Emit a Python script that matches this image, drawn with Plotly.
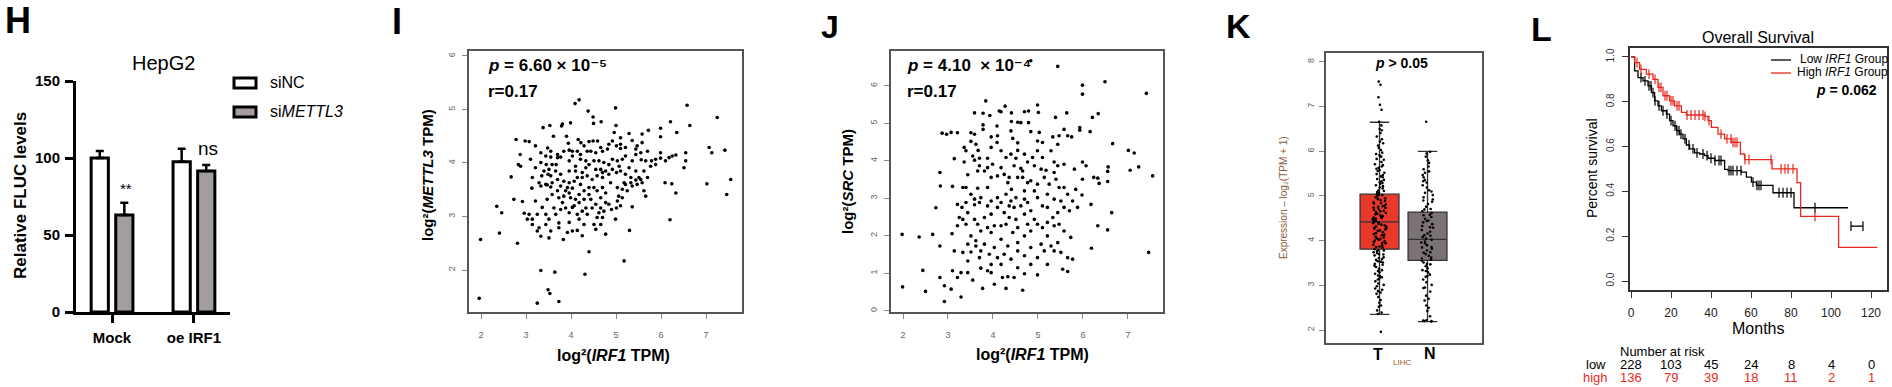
import plotly.graph_objects as go

# ---------------- data ----------------
# Panel H (HepG2 luciferase)
h_categories = ["Mock", "oe IRF1"]
h_sinc = [100, 97.5]
h_sinc_err = [4.5, 8.5]
h_simettl3 = [63, 91.5]
h_simettl3_err = [8, 4]

# Panel I: log2(IRF1 TPM) vs log2(METTL3 TPM)
i_x = [4.09, 4.18, 4.38, 4.49, 4.50, 4.67, 4.99, 6.58, 7.25, 6.21, 6.64, 5.00, 3.99, 3.79, 3.81, 3.53, 3.38,
       3.61, 3.90, 2.78, 2.98, 3.07, 3.21, 3.48, 3.94, 3.96, 4.16, 4.22, 4.29, 4.40, 4.49, 4.59, 4.14, 4.36,
       4.96, 5.10, 5.29, 5.36, 5.58, 5.58, 5.47, 5.44, 5.72, 5.99, 5.99, 6.35, 4.92, 5.01, 5.10, 4.81, 4.70,
       4.55, 2.87, 3.10, 2.83, 2.88, 3.33, 3.45, 3.55, 3.70, 3.77, 3.51, 3.58, 3.67, 3.96, 4.03, 4.10, 4.21,
       4.33, 4.40, 4.51, 4.62, 4.73, 4.84, 4.92, 5.03, 5.14, 5.21, 5.36, 5.44, 5.56, 5.66, 5.79, 5.88, 5.99,
       5.99, 6.18, 6.33, 6.55, 6.55, 6.51, 7.07, 7.13, 7.42, 7.55, 7.46, 7.02, 6.09, 6.24, 6.33, 6.20, 2.67,
       3.14, 3.35, 3.49, 3.13, 3.33, 3.47, 3.55, 3.70, 3.84, 3.96, 4.07, 4.14, 4.25, 4.36, 4.47, 4.58, 4.70,
       4.77, 4.84, 5.01, 5.10, 5.21, 5.33, 5.44, 5.55, 5.58, 5.70, 3.70, 3.73, 3.84, 3.92, 4.03, 4.10, 4.18,
       4.29, 4.40, 4.51, 4.58, 4.70, 4.77, 4.88, 5.03, 5.06, 5.14, 5.25, 5.36, 5.47, 5.62, 5.66, 2.35, 2.46,
       2.73, 2.92, 2.96, 3.07, 3.14, 3.25, 3.44, 3.51, 3.62, 3.66, 3.77, 3.88, 3.96, 4.07, 4.14, 4.25, 4.33,
       4.44, 4.55, 4.66, 4.73, 4.77, 4.90, 5.01, 5.10, 5.36, 3.14, 3.29, 3.33, 3.51, 3.55, 3.73, 3.83, 3.92,
       4.03, 4.14, 4.25, 4.51, 4.55, 4.77, 4.99, 5.30, 2.41, 1.99, 2.81, 4.40, 5.18, 3.33, 3.64, 4.31, 3.49,
       3.53, 1.96, 3.25, 3.73, 4.33, 4.66, 3.96, 3.66, 3.44, 3.29, 5.18, 5.29, 3.96, 4.21, 4.66, 4.36, 4.58,
       4.66, 3.36, 3.03,
       3.44, 3.58, 3.77, 3.88, 3.99, 4.18, 4.29, 4.40, 4.47, 4.62, 4.70, 4.84, 5.03, 5.14, 5.21, 5.33, 5.51,
       5.62, 5.77, 5.88, 6.10, 6.25, 5.70, 5.55, 5.21, 5.10, 4.84, 4.66, 4.44, 4.21, 4.03, 3.84, 3.70, 3.55,
       3.33, 3.21, 3.40, 3.55, 3.77, 4.10, 4.25, 4.55, 4.70, 4.92, 5.07, 5.44, 3.21, 3.47, 3.58, 3.81, 4.03,
       4.18, 4.29, 3.96, 3.73, 3.44, 3.25]
i_y = [5.11, 5.18, 4.97, 4.86, 4.74, 4.77, 5.03, 5.08, 4.85, 4.77, 4.70, 4.70, 4.75, 4.69, 4.73, 4.70, 4.66,
       4.50, 4.50, 4.44, 4.41, 4.40, 4.32, 4.28, 4.37, 4.24, 4.44, 4.38, 4.32, 4.40, 4.41, 4.41, 4.22, 4.22,
       4.57, 4.47, 4.55, 4.42, 4.54, 4.38, 4.32, 4.26, 4.61, 4.65, 4.49, 4.57, 4.41, 4.32, 4.27, 4.26, 4.22,
       4.19, 4.16, 4.07, 3.97, 3.94, 4.01, 3.97, 4.11, 4.10, 4.11, 3.88, 3.97, 3.97, 4.04, 4.13, 3.94, 4.07,
       4.04, 3.97, 4.04, 4.04, 4.01, 3.97, 4.07, 4.04, 4.07, 4.13, 4.04, 4.16, 4.06, 4.04, 4.04, 4.07, 4.19,
       4.09, 4.10, 4.15, 4.19, 4.04, 3.91, 4.29, 4.19, 4.24, 3.69, 3.41, 3.61, 3.63, 3.61, 3.44, 2.94, 3.74,
       3.73, 3.76, 3.79, 3.53, 3.57, 3.59, 3.55, 3.69, 3.66, 3.63, 3.66, 3.73, 3.73, 3.76, 3.69, 3.76, 3.73,
       3.85, 3.79, 3.82, 3.85, 3.79, 3.73, 3.68, 3.69, 3.63, 3.73, 3.48, 3.35, 3.38, 3.54, 3.53, 3.32, 3.41,
       3.48, 3.54, 3.54, 3.48, 3.54, 3.44, 3.63, 3.54, 3.38, 3.51, 3.48, 3.57, 3.60, 3.48, 3.38, 3.19, 3.07,
       3.32, 3.28, 3.06, 3.04, 2.95, 3.04, 3.04, 2.95, 3.16, 3.04, 3.13, 3.16, 3.07, 3.20, 3.04, 3.10, 3.16,
       3.32, 3.23, 3.16, 3.10, 3.26, 3.13, 3.16, 3.20, 3.18, 2.85, 2.79, 2.63, 2.60, 2.73, 2.88, 2.57, 2.70,
       2.73, 2.74, 2.64, 2.85, 2.76, 2.67, 2.95, 2.74, 2.69, 2.57, 2.50, 2.34, 2.17, 1.99, 1.96, 1.92, 1.63,
       1.56, 1.47, 1.38, 1.41, 3.91, 3.88, 3.85, 3.85, 4.13, 3.63, 3.63, 3.91, 3.44, 3.60, 3.35, 3.04, 2.98,
       2.85, 3.17, 2.95,
       3.60, 3.63, 3.57, 3.48, 3.35, 3.26, 3.32, 3.41, 3.16, 3.07, 2.98, 3.23, 3.29, 3.35, 3.60, 3.63, 3.73,
       3.85, 3.94, 3.97, 4.04, 4.13, 4.22, 4.19, 4.29, 4.35, 4.35, 4.29, 4.22, 4.16, 4.22, 4.22, 4.16, 4.22,
       4.19, 3.91, 3.85, 3.76, 3.79, 3.85, 3.82, 3.88, 3.82, 3.88, 3.94, 3.85, 3.29, 3.32, 3.41, 3.26, 3.17,
       2.95, 2.85, 2.89, 2.79, 2.85, 2.73]

# Panel J: log2(IRF1 TPM) vs log2(SRC TPM)
j_x = [4.84, 5.44, 5.99, 5.99, 6.49, 7.41, 7.55, 7.46, 7.01, 7.14, 7.24, 7.05, 6.66, 6.64, 6.56, 6.55, 6.55,
       6.34, 6.21, 6.16, 5.93, 5.93, 5.99, 6.07, 5.99, 6.24, 6.33, 6.36, 6.18, 6.33, 6.55, 6.19, 5.64, 5.39,
       5.58, 5.66, 5.75, 5.47, 5.33, 5.44, 4.99, 5.01, 4.79, 4.70, 4.41, 4.27, 4.14, 4.18, 3.84, 3.93, 3.78,
       3.59, 4.41, 4.55, 4.62, 4.79, 4.09, 3.78, 3.78, 3.96, 2.87, 2.97, 3.07, 3.21, 3.51, 4.40, 4.44, 4.55,
       4.55, 4.84, 5.03, 4.99, 5.10, 3.51, 3.62, 3.67, 3.36, 4.09, 4.18, 4.29, 4.40, 4.51, 3.14, 3.36, 3.59,
       3.70, 3.88, 4.70, 4.77, 4.88, 4.92, 5.07, 5.18, 5.29, 5.36, 5.44, 5.36, 5.40, 5.58, 5.81, 5.58, 5.84,
       5.98, 2.82, 2.83, 3.10, 3.33, 3.44, 3.66, 3.88, 3.96, 4.10, 4.25, 4.36, 4.55, 4.62, 4.66, 4.77, 4.70,
       4.92, 3.40, 3.51, 3.66, 3.88, 4.10, 4.29, 4.41, 4.51, 4.62, 4.77, 2.73, 3.09, 2.66, 2.36, 1.98, 3.21,
       3.31, 3.44, 3.59, 3.70, 3.88, 3.96, 4.10, 4.25, 4.36, 4.47, 4.70, 4.84, 5.10, 5.21, 5.33, 5.44, 5.58,
       5.70, 3.21, 3.33, 3.51, 3.66, 3.73, 3.88, 4.03, 4.18, 4.29, 4.44, 4.55, 4.70, 4.84, 4.99, 5.10, 5.21,
       5.36, 2.82, 3.14, 3.33, 3.51, 3.62, 3.70, 3.73, 3.92, 4.10, 4.25, 4.40, 4.55, 4.70, 4.84, 4.99, 5.14,
       5.21, 5.36, 5.51, 5.66, 5.77, 2.44, 3.10, 3.29, 3.44, 3.73, 3.88, 3.96, 4.21, 4.33, 4.47, 4.70, 4.99,
       5.55, 5.66, 2.82, 3.21, 3.55, 2.92, 3.07, 3.29, 3.77, 4.03, 4.29, 4.66, 1.99, 2.50, 2.92,
       3.40, 3.55, 3.70, 3.81, 3.99, 4.18, 4.33, 4.47, 4.66, 4.84, 4.99, 5.14, 5.25, 5.47, 5.66, 5.77, 5.88,
       5.51, 5.36, 5.21, 4.99, 4.70, 4.40, 4.18, 3.96, 3.73, 3.59, 3.40, 3.25, 3.40, 3.59, 3.81, 3.96, 4.18,
       4.36, 4.51, 4.77, 4.92, 5.21, 5.47, 5.58, 5.73, 3.44, 3.62, 3.81, 4.03, 4.33, 4.55, 4.84, 5.07, 5.29,
       5.44, 3.44, 3.96, 4.18, 4.55, 3.59, 4.10, 4.99, 5.10, 3.96]
j_y = [6.67, 6.52, 6.02, 5.78, 6.11, 5.80, 3.60, 1.56, 4.28, 4.21, 3.84, 3.75, 4.46, 2.62, 3.84, 3.72, 3.45,
       5.26, 5.16, 4.78, 4.89, 4.82, 3.97, 3.87, 3.51, 3.56, 3.54, 3.40, 2.84, 2.27, 2.16, 1.67, 5.28, 5.16,
       4.84, 4.67, 4.64, 4.67, 4.64, 4.44, 5.49, 5.29, 5.33, 5.31, 5.28, 5.46, 5.33, 5.31, 5.60, 5.21, 5.27,
       5.28, 5.05, 5.03, 5.02, 5.02, 4.93, 4.96, 4.84, 4.64, 4.74, 4.71, 4.76, 4.75, 4.75, 4.80, 4.60, 4.48,
       4.28, 4.78, 4.76, 4.53, 4.49, 4.52, 4.44, 4.28, 4.36, 4.49, 4.27, 4.09, 4.18, 4.07, 4.06, 3.97, 4.02,
       4.07, 4.07, 4.18, 3.97, 4.09, 3.87, 3.78, 3.75, 4.27, 3.97, 3.87, 3.69, 3.51, 3.91, 3.78, 3.29, 3.24,
       3.09, 3.69, 3.33, 3.32, 3.29, 3.63, 3.73, 3.82, 3.56, 3.60, 3.64, 3.56, 3.56, 3.80, 3.73, 3.42, 3.20,
       3.20, 3.29, 3.11, 3.27, 3.29, 3.02, 3.11, 3.24, 3.02, 2.80, 2.89, 2.75, 2.06, 2.04, 1.97, 2.04, 2.84,
       2.76, 2.62, 2.83, 2.89, 2.80, 2.58, 2.76, 2.62, 2.80, 2.76, 2.58, 2.67, 2.80, 2.76, 2.49, 2.62, 2.76,
       2.67, 2.27, 2.44, 2.00, 2.31, 2.13, 2.22, 2.27, 1.91, 2.31, 2.09, 2.22, 2.00, 2.13, 2.31, 2.22, 2.00,
       2.27, 1.73, 1.60, 1.56, 1.57, 1.73, 1.42, 1.60, 1.51, 1.42, 1.51, 1.38, 1.60, 1.47, 1.24, 1.42, 1.60,
       1.24, 1.60, 1.56, 1.42, 1.38, 1.08, 1.07, 1.02, 1.02, 1.14, 1.07, 1.02, 0.89, 0.91, 0.89, 0.99, 0.96,
       1.11, 1.05, 0.89, 0.89, 0.82, 0.67, 0.58, 0.37, 0.60, 0.71, 0.60, 0.55, 0.64, 0.52, 0.25,
       4.27, 4.13, 3.87, 3.73, 3.91, 3.82, 3.42, 3.87, 3.56, 3.47, 3.38, 3.56, 3.38, 3.29, 3.11, 2.93, 2.76,
       2.93, 2.98, 3.11, 3.02, 2.98, 2.93, 2.89, 2.93, 3.02, 2.98, 2.89, 2.49, 2.31, 2.44, 2.49, 2.09, 2.27,
       2.49, 2.44, 2.31, 2.44, 2.36, 2.31, 2.13, 1.96, 1.78, 1.87, 1.78, 1.69, 1.73, 1.82, 1.69, 1.78, 1.73,
       1.82, 1.33, 1.24, 1.24, 1.15, 4.71, 4.67, 4.27, 4.09, 4.36]

# Panel K: GEPIA box plot (LIHC)
k_groups = ["T", "N"]
k_q1 = [3.81, 3.56]
k_median = [4.42, 4.03]
k_q3 = [5.04, 4.64]
k_lower = [2.35, 2.19]
k_upper = [6.65, 6.00]
k_t_points = [7.56, 7.49, 7.21, 7.04, 6.93, 6.66, 6.58, 6.47, 6.41, 6.33, 6.27, 6.22, 6.13, 6.08, 6.03, 5.97,
              5.94, 5.88, 5.83, 5.81, 5.76, 5.71, 5.69, 5.63, 5.61, 5.56, 5.52, 5.49, 5.47, 5.42, 5.38, 5.36,
              5.33, 5.29, 5.27, 5.22, 5.19, 5.17, 5.13, 5.11, 5.07, 5.04, 5.02, 4.99, 4.97, 4.93, 4.91, 4.89,
              4.86, 4.83, 4.81, 4.78, 4.76, 4.73, 4.71, 4.69, 4.66, 4.64, 4.62, 4.59, 4.57, 4.55, 4.53, 4.51,
              4.48, 4.46, 4.44, 4.43, 4.41, 4.38, 4.36, 4.34, 4.32, 4.29, 4.27, 4.25, 4.22, 4.19, 4.17, 4.15,
              4.12, 4.09, 4.07, 4.04, 4.02, 3.99, 3.97, 3.94, 3.91, 3.89, 3.86, 3.84, 3.81, 3.78, 3.76, 3.72,
              3.69, 3.67, 3.63, 3.61, 3.57, 3.54, 3.51, 3.48, 3.44, 3.41, 3.37, 3.34, 3.29, 3.26, 3.22, 3.18,
              3.13, 3.09, 3.04, 2.98, 2.93, 2.87, 2.81, 2.74, 2.67, 2.61, 2.52, 2.44, 2.39, 2.36, 1.96,
              5.58, 5.44, 5.31, 5.24, 5.09, 4.95, 4.84, 4.74, 4.67, 4.60, 4.49, 4.39, 4.31, 4.23, 4.13, 4.05,
              3.95, 3.87, 3.79, 3.70, 3.59, 3.46, 3.32, 3.16, 3.01, 2.84, 5.91, 5.66, 5.02, 4.77, 4.52, 4.28,
              4.00, 3.74, 3.53, 3.20, 6.18, 6.50, 2.90, 2.55]
k_n_points = [6.66, 5.99, 5.95, 5.88, 5.80, 5.74, 5.66, 5.60, 5.55, 5.47, 5.42, 5.36, 5.30, 5.24, 5.19, 5.13,
              5.07, 5.02, 4.97, 4.92, 4.87, 4.82, 4.76, 4.71, 4.66, 4.62, 4.57, 4.53, 4.49, 4.45, 4.41, 4.37,
              4.33, 4.29, 4.24, 4.20, 4.16, 4.12, 4.08, 4.05, 4.02, 3.98, 3.94, 3.90, 3.86, 3.82, 3.78, 3.74,
              3.70, 3.66, 3.62, 3.58, 3.55, 3.51, 3.47, 3.43, 3.38, 3.34, 3.29, 3.24, 3.19, 3.13, 3.07, 3.01,
              2.94, 2.86, 2.77, 2.66, 2.55, 2.43, 2.31, 2.22, 2.20, 2.19, 2.20, 2.21, 4.44, 4.30, 4.11, 3.96,
              3.85, 3.73, 3.60, 3.48, 3.32, 3.21, 4.58, 4.70, 4.90, 5.10, 5.33, 5.52, 2.50, 2.70, 2.95]

# Panel L: Kaplan-Meier overall survival
low_t = [0, 1.8, 3.5, 6, 8.5, 10.2, 11.8, 13.5, 15.2, 17.7, 19.3, 21, 22.7, 24.3, 26, 27.7, 29.3, 31.8,
         34.3, 36.8, 38.5, 41.8, 46.8, 48.5, 55.2, 57.7, 60.2, 62.7, 71, 81.5, 108.5]
low_s = [1.0, 0.938, 0.908, 0.893, 0.871, 0.841, 0.804, 0.782, 0.76, 0.745, 0.716, 0.693, 0.671, 0.656,
         0.634, 0.607, 0.59, 0.572, 0.567, 0.56, 0.548, 0.538, 0.498, 0.493, 0.486, 0.464, 0.441, 0.427,
         0.394, 0.327, 0.327]
low_tail_t = [110, 116]
low_tail_s = [0.245, 0.245]
high_t = [0, 1.8, 4.3, 7.7, 11, 13.5, 16, 19.3, 21.8, 25.2, 27.7, 36.8, 38.5, 40.2, 43.5, 46.8, 50.2,
          54.7, 56.8, 70.5, 83, 84.8, 103.8, 123.2]
high_s = [1.0, 0.975, 0.945, 0.923, 0.90, 0.864, 0.827, 0.804, 0.782, 0.753, 0.741, 0.735, 0.716, 0.686,
          0.656, 0.634, 0.619, 0.567, 0.542, 0.501, 0.439, 0.289, 0.15, 0.15]
low_cens_t = [5, 7, 9, 10, 11, 12, 14, 16, 18, 20, 22, 23, 24, 25, 27, 29, 31, 33, 36, 38, 40, 42, 44, 45,
              49, 50, 51, 53, 55, 61, 63, 64, 65, 74, 76, 78, 80, 92, 110, 116]
low_cens_s = [0.908, 0.893, 0.871, 0.871, 0.841, 0.804, 0.782, 0.76, 0.745, 0.716, 0.693, 0.671, 0.671,
              0.656, 0.634, 0.607, 0.59, 0.572, 0.567, 0.56, 0.548, 0.538, 0.538, 0.538, 0.493, 0.493,
              0.493, 0.493, 0.493, 0.441, 0.427, 0.427, 0.427, 0.394, 0.394, 0.394, 0.394, 0.327, 0.245,
              0.245]
high_cens_t = [3, 5, 9, 12, 14, 15, 17, 18, 20, 21, 23, 24, 28, 30, 32, 34, 36, 37, 39, 45, 48, 50, 51,
               52, 53, 57, 59, 70, 75, 77, 78.5, 81, 92]
high_cens_s = [0.975, 0.945, 0.923, 0.90, 0.864, 0.864, 0.827, 0.827, 0.804, 0.804, 0.782, 0.782, 0.741,
               0.741, 0.741, 0.741, 0.741, 0.735, 0.716, 0.656, 0.634, 0.634, 0.619, 0.619, 0.619, 0.542,
               0.542, 0.542, 0.501, 0.501, 0.501, 0.501, 0.289]
risk_months = [0, 20, 40, 60, 80, 100, 120]
risk_low = [228, 103, 45, 24, 8, 4, 0]
risk_high = [136, 79, 39, 18, 11, 2, 1]

# ---------------- layout helpers ----------------
W, H = 1892, 387
FONT = "Liberation Sans, Arial, DejaVu Sans, sans-serif"
RED = "#e8281e"


def fx(px):
    return px / W


def fy(py):
    return 1 - py / H


fig = go.Figure()

# ---- H: bars ----
fig.add_trace(go.Bar(
    x=h_categories, y=h_sinc, name="siNC", xaxis="x", yaxis="y", showlegend=False,
    marker=dict(color="white", line=dict(color="black", width=3)),
    error_y=dict(type="data", symmetric=False, array=h_sinc_err, arrayminus=[0, 0],
                 color="black", thickness=2.5, width=4)))
fig.add_trace(go.Bar(
    x=h_categories, y=h_simettl3, name="siMETTL3", xaxis="x", yaxis="y", showlegend=False,
    marker=dict(color="#a39d9d", line=dict(color="black", width=3)),
    error_y=dict(type="data", symmetric=False, array=h_simettl3_err, arrayminus=[0, 0],
                 color="black", thickness=2.5, width=4)))

# ---- I, J: scatter ----
fig.add_trace(go.Scatter(x=i_x, y=i_y, mode="markers", xaxis="x2", yaxis="y2", showlegend=False,
                         marker=dict(size=3.6, color="black")))
fig.add_trace(go.Scatter(x=j_x, y=j_y, mode="markers", xaxis="x3", yaxis="y3", showlegend=False,
                         marker=dict(size=3.6, color="black")))

# ---- K: boxes + jitter ----
k_colors = ["#e8392b", "#7b7373"]
for g, col, q1, med, q3, lo, up in zip(k_groups, k_colors, k_q1, k_median, k_q3, k_lower, k_upper):
    fig.add_trace(go.Box(x=[g], q1=[q1], median=[med], q3=[q3], lowerfence=[lo], upperfence=[up],
                         xaxis="x4", yaxis="y4", showlegend=False, fillcolor=col, width=0.81,
                         whiskerwidth=0.5, boxpoints=False,
                         line=dict(color="#333333", width=1.3)))
for g, pts in zip(k_groups, [k_t_points, k_n_points]):
    fig.add_trace(go.Box(x=[g] * len(pts), y=pts, xaxis="x4", yaxis="y4", showlegend=False,
                         boxpoints="all", jitter=0.36, pointpos=0, width=0.81, whiskerwidth=0,
                         fillcolor="rgba(0,0,0,0)", line=dict(color="rgba(0,0,0,0)", width=0),
                         marker=dict(size=2.6, color="black"), hoverinfo="y"))

# ---- L: Kaplan-Meier ----
fig.add_trace(go.Scatter(x=low_t, y=low_s, mode="lines", line=dict(shape="hv", color="black", width=1.3),
                         xaxis="x5", yaxis="y5", showlegend=False))
fig.add_trace(go.Scatter(x=low_tail_t, y=low_tail_s, mode="lines", line=dict(color="black", width=1.3),
                         xaxis="x5", yaxis="y5", showlegend=False))
fig.add_trace(go.Scatter(x=high_t, y=high_s, mode="lines", line=dict(shape="hv", color=RED, width=1.3),
                         xaxis="x5", yaxis="y5", showlegend=False))
fig.add_trace(go.Scatter(x=low_cens_t, y=low_cens_s, mode="markers", xaxis="x5", yaxis="y5",
                         showlegend=False,
                         marker=dict(symbol="line-ns", size=7, line=dict(color="black", width=1.2))))
fig.add_trace(go.Scatter(x=high_cens_t, y=high_cens_s, mode="markers", xaxis="x5", yaxis="y5",
                         showlegend=False,
                         marker=dict(symbol="line-ns", size=7, line=dict(color=RED, width=1.2))))

# ---------------- axes ----------------
tiny = dict(family=FONT, size=9, color="#666666")
rbox = dict(showline=True, mirror=True, linecolor="#555555", linewidth=1.5, ticks="outside",
            ticklen=5, tickcolor="#888888", tickwidth=1, showgrid=False, zeroline=False, tickfont=tiny)

L_X_DOMAIN = [fx(1630), fx(1887)]
L_X_RANGE = [-0.5, 128]

layout_axes = dict(
    xaxis=dict(domain=[fx(76), fx(230)], range=[-0.44, 1.44], anchor="y", showline=True,
               linecolor="black", linewidth=3, ticks="outside", ticklen=8, tickwidth=3,
               tickcolor="black", showgrid=False, zeroline=False,
               tickfont=dict(family=FONT, size=15, color="black", weight="bold"), ticklabelstandoff=2),
    yaxis=dict(domain=[fy(312), fy(81)], range=[0, 150], anchor="x", tickvals=[0, 50, 100, 150],
               showline=True, linecolor="black", linewidth=3, ticks="outside", ticklen=8, tickwidth=3,
               tickcolor="black", showgrid=False, zeroline=False,
               tickfont=dict(family=FONT, size=15, color="black", weight="bold"), ticklabelstandoff=2),
    xaxis2=dict(domain=[fx(469), fx(742)], range=[1.733, 7.8], anchor="y2", tickvals=[2, 3, 4, 5, 6, 7],
                ticklabelstandoff=8, **rbox),
    yaxis2=dict(domain=[fy(312), fy(51)], range=[1.215, 6.093], anchor="x2", tickvals=[2, 3, 4, 5, 6],
                tickangle=-90, ticklabelstandoff=4, **rbox),
    xaxis3=dict(domain=[fx(891), fx(1163)], range=[1.733, 7.78], anchor="y3", tickvals=[2, 3, 4, 5, 6, 7],
                ticklabelstandoff=8, **rbox),
    yaxis3=dict(domain=[fy(312), fy(51)], range=[-0.03, 6.93], anchor="x3", tickvals=[0, 1, 2, 3, 4, 5, 6],
                tickangle=-90, ticklabelstandoff=4, **rbox),
    xaxis4=dict(domain=[fx(1326), fx(1482)], range=[-1.115, 2.135], anchor="y4", type="category",
                categoryorder="array", categoryarray=k_groups, showline=True, mirror=True,
                linecolor="#555555", linewidth=1.5, ticks="", showticklabels=False, showgrid=False,
                zeroline=False),
    yaxis4=dict(domain=[fy(343), fy(53)], range=[1.71, 8.2], anchor="x4", tickvals=[2, 3, 4, 5, 6, 7, 8],
                tickangle=-90, ticklabelstandoff=2, **rbox),
    xaxis5=dict(domain=L_X_DOMAIN, range=L_X_RANGE, anchor="y5",
                tickvals=[0, 20, 40, 60, 80, 100, 120], showline=True, mirror=True, linecolor="#333333",
                linewidth=1.5, ticks="outside", ticklen=6, tickcolor="#333333", showgrid=False,
                zeroline=False, tickfont=dict(family=FONT, size=12, color="#222222"), ticklabelstandoff=5),
    yaxis5=dict(domain=[fy(290), fy(48)], range=[-0.04, 1.04], anchor="x5",
                tickvals=[0, 0.2, 0.4, 0.6, 0.8, 1.0], ticktext=["0.0", "0.2", "0.4", "0.6", "0.8", "1.0"],
                tickangle=-90, showline=True, mirror=True, linecolor="#333333", linewidth=1.5,
                ticks="outside", ticklen=6, tickcolor="#333333", showgrid=False, zeroline=False,
                tickfont=dict(family=FONT, size=10, color="#333333"), ticklabelstandoff=4),
)

# ---------------- annotations ----------------
ann = []


def txt(text, px, py, size, bold=False, color="black", xanchor="center", angle=0, xpaper=None):
    ann.append(dict(text=text, x=fx(px) if xpaper is None else xpaper, y=fy(py), xref="paper",
                    yref="paper", showarrow=False, xanchor=xanchor, yanchor="middle", textangle=angle,
                    font=dict(family=FONT, size=size, color=color, weight="bold" if bold else "normal")))


# panel letters
txt("H", 18, 20, 36, bold=True)
txt("I", 397, 22, 36, bold=True)
txt("J", 830, 27, 32, bold=True)
txt("K", 1238, 26, 34, bold=True)
txt("L", 1541, 29, 34, bold=True)

# H
txt("HepG2", 163, 63, 20)
txt("Relative FLUC levels", 20, 196, 17, bold=True, angle=-90)
txt("**", 126, 188, 15)
txt("ns", 208, 149, 19)
txt("siNC", 268, 83, 16, xanchor="left")
txt("si<i>METTL3</i>", 268, 112, 16, xanchor="left")

# I
txt("<i>p</i> = 6.60 × 10\u207b\u2075", 486, 65, 17, bold=True, xanchor="left")
txt("r=0.17", 486, 91, 17, bold=True, xanchor="left")
txt("log\u00b2(<i>METTL3</i> TPM)", 427, 175, 15, bold=True, angle=-90)
txt("log\u00b2(<i>IRF1</i> TPM)", 613, 355, 16, bold=True)

# J
txt("<i>p</i> = 4.10  × 10\u207b\u2074", 905, 65, 17, bold=True, xanchor="left")
txt("r=0.17", 905, 91, 17, bold=True, xanchor="left")
txt("log\u00b2(<i>SRC</i> TPM)", 847, 182, 15, bold=True, angle=-90)
txt("log\u00b2(<i>IRF1</i> TPM)", 1032, 354, 16, bold=True)

# K
txt("<i>p</i> > 0.05", 1401, 63, 14, bold=True)
txt("Expression \u2013 log\u2082(TPM + 1)", 1283, 198, 10, color="#8b5a3c", angle=-90)
txt("T", 1378, 354, 16, bold=True)
txt("N", 1430, 353, 16, bold=True)
txt("LIHC", 1402, 362, 8, color="#a0522d")

# L
txt("Overall Survival", 1758, 37, 16)
txt("Percent survival", 1592, 168, 14, angle=-90)
txt("Months", 1758, 328, 16)
txt("Low <i>IRF1</i> Group", 1798, 59, 12, xanchor="left")
txt("High <i>IRF1</i> Group", 1795, 72, 12, xanchor="left")
txt("<i>p</i> = 0.062", 1879, 90, 14, bold=True, xanchor="right")
txt("Number at risk", 1662, 351, 13)
txt("low", 1608, 364, 13, xanchor="right")
txt("high", 1610, 377, 13, color=RED, xanchor="right")
for m, lo, hi in zip(risk_months, risk_low, risk_high):
    # place the table columns under the month ticks of the survival axis
    xp = L_X_DOMAIN[0] + (m - L_X_RANGE[0]) / (L_X_RANGE[1] - L_X_RANGE[0]) * (L_X_DOMAIN[1] - L_X_DOMAIN[0])
    txt(str(lo), 0, 364, 13, xpaper=xp)
    txt(str(hi), 0, 377, 13, color=RED, xpaper=xp)

# ---------------- legend swatches (shapes) ----------------
shapes = [
    dict(type="rect", xref="paper", yref="paper", x0=fx(234), x1=fx(256), y0=fy(88), y1=fy(78),
         line=dict(color="black", width=3), fillcolor="white"),
    dict(type="rect", xref="paper", yref="paper", x0=fx(234), x1=fx(256), y0=fy(117), y1=fy(107),
         line=dict(color="black", width=3), fillcolor="#a39d9d"),
    dict(type="line", xref="paper", yref="paper", x0=fx(1771), x1=fx(1791), y0=fy(60), y1=fy(60),
         line=dict(color="black", width=1.3)),
    dict(type="line", xref="paper", yref="paper", x0=fx(1771), x1=fx(1791), y0=fy(73), y1=fy(73),
         line=dict(color=RED, width=1.3)),
]

fig.update_layout(
    width=W, height=H, margin=dict(l=0, r=0, t=0, b=0, pad=0),
    paper_bgcolor="white", plot_bgcolor="white", template="none",
    barmode="group", bargap=0.40, bargroupgap=0.30, boxmode="overlay",
    font=dict(family=FONT), annotations=ann, shapes=shapes, showlegend=False,
    **layout_axes,
)

fig.write_html("out.html", config={"displayModeBar": False},
               post_script="document.body.style.margin='0';document.body.style.overflow='hidden';")
